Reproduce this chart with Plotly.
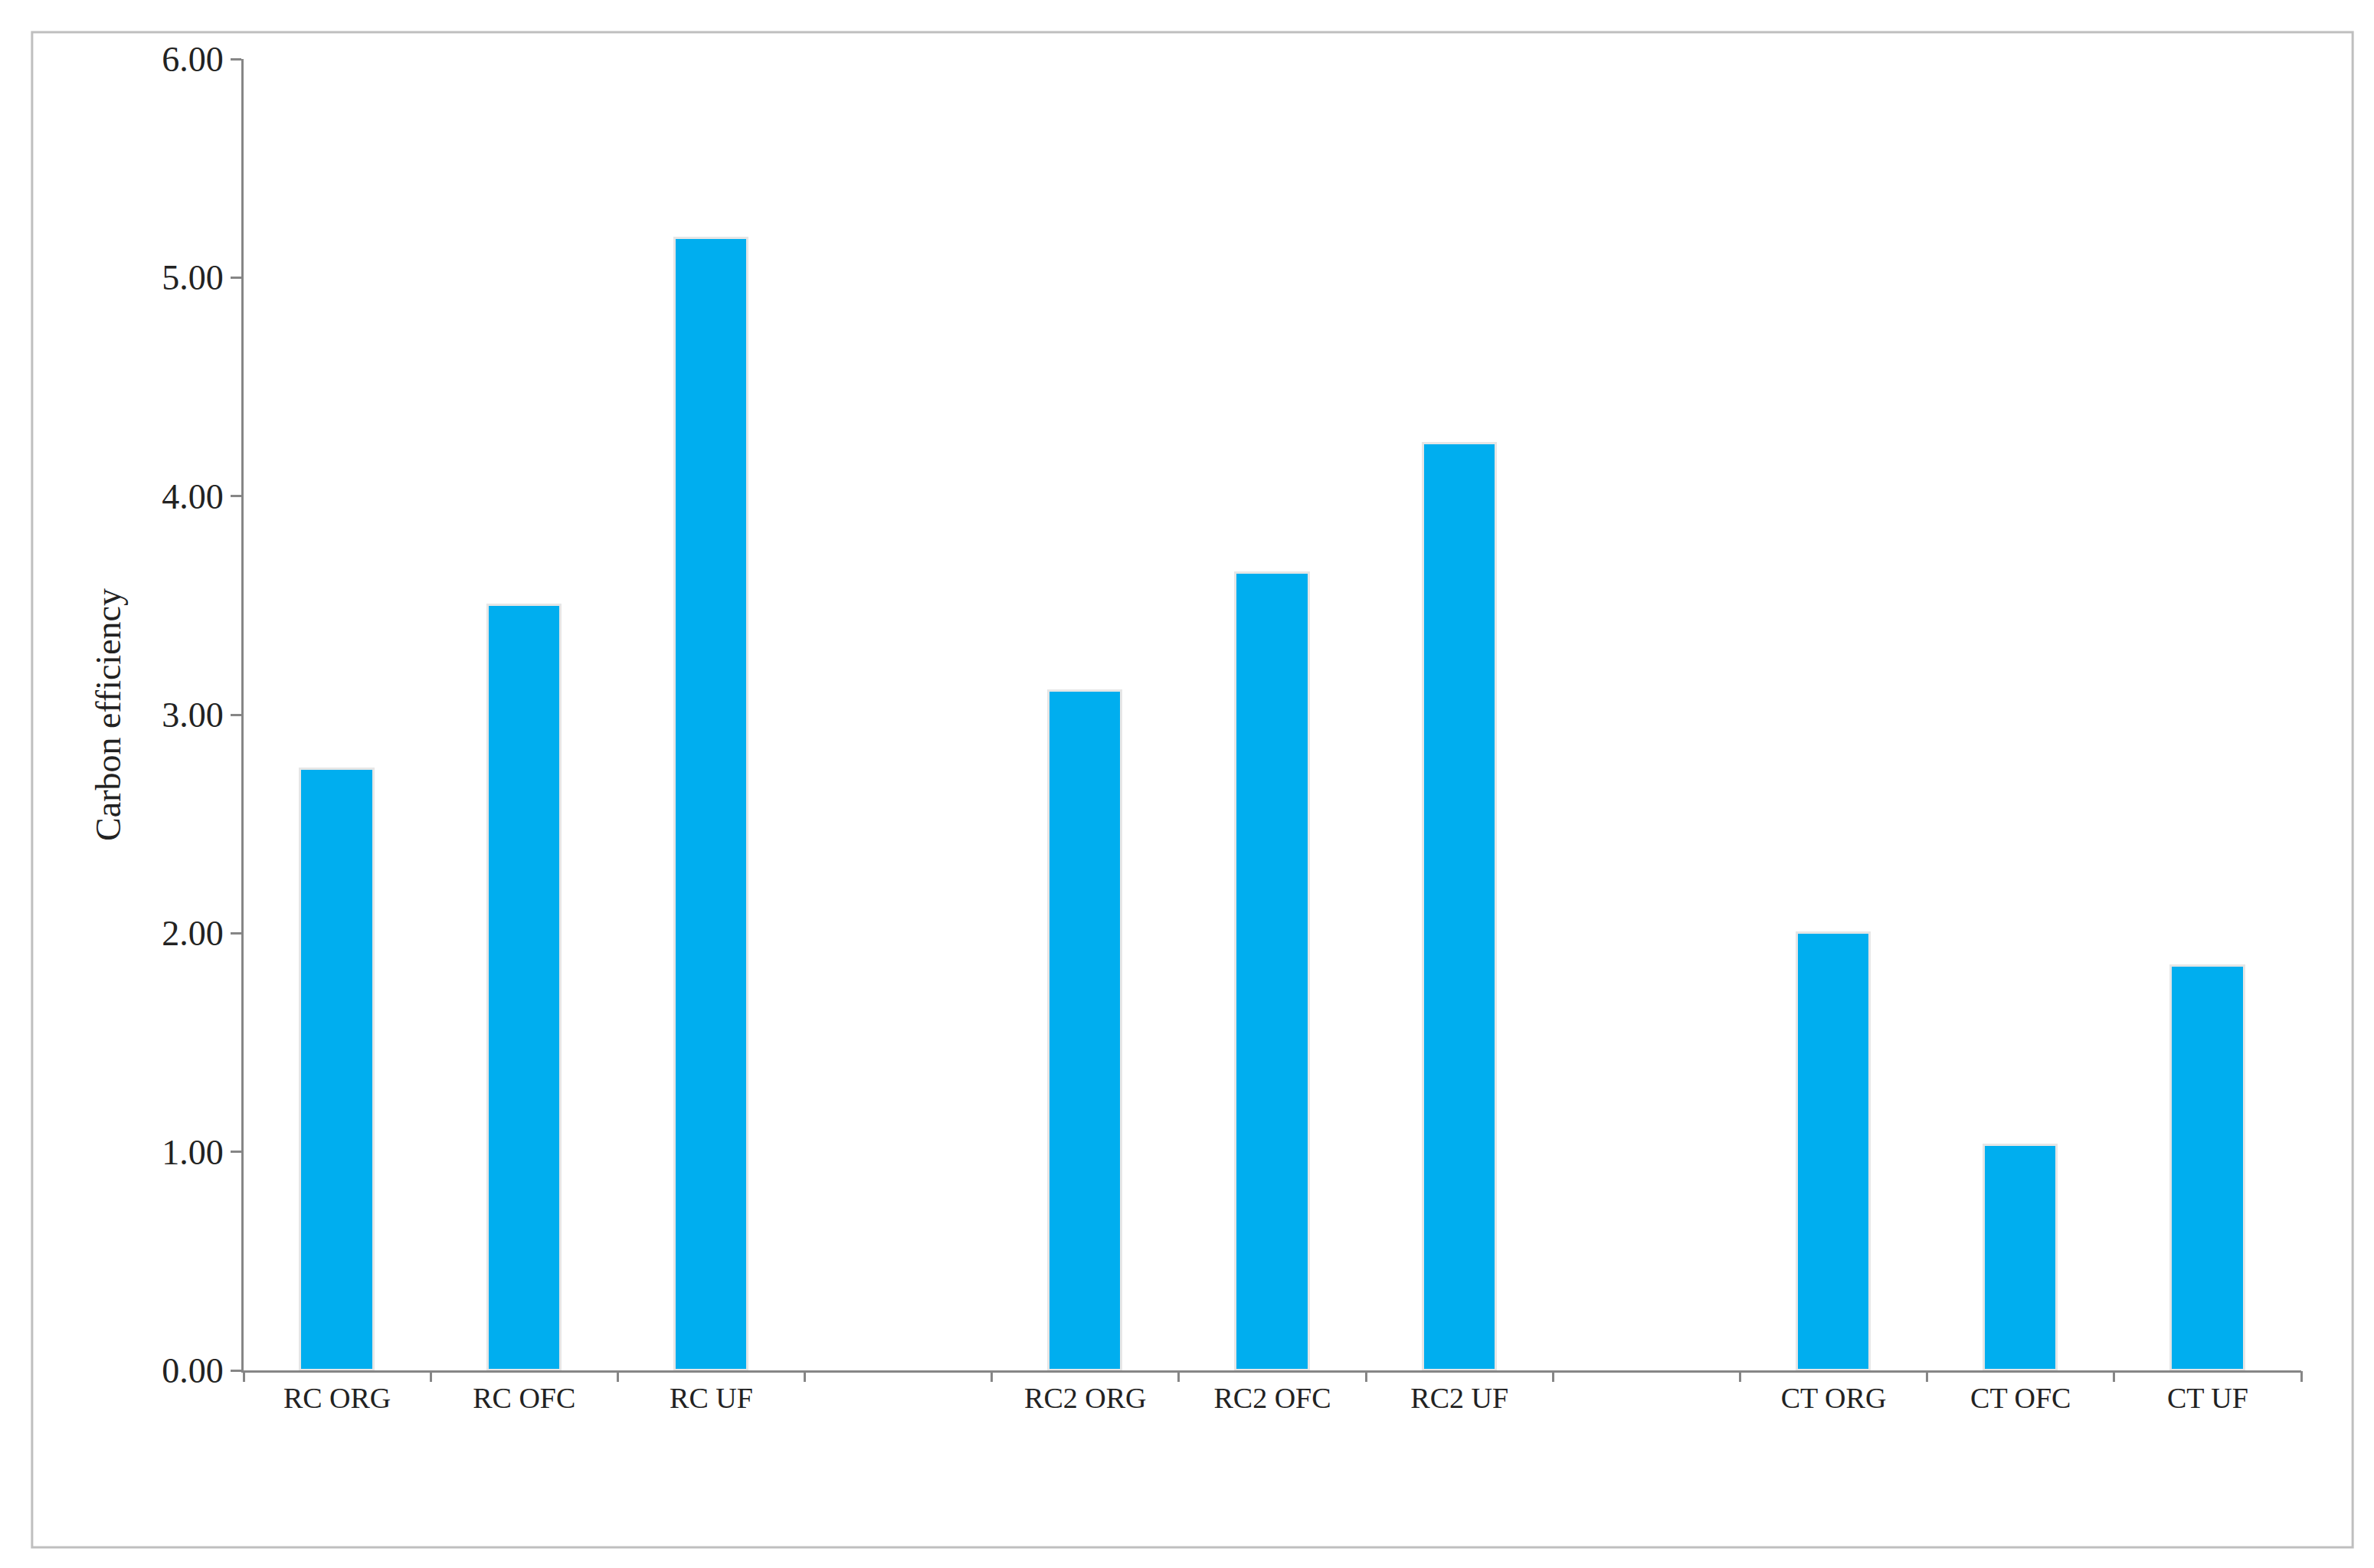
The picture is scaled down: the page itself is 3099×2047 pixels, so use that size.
import plotly.graph_objects as go

categories = ["RC ORG", "RC OFC", "RC UF", "", "RC2 ORG", "RC2 OFC", "RC2 UF", " ", "CT ORG", "CT OFC", "CT UF"]
values = [2.75, 3.50, 5.18, None, 3.11, 3.65, 4.24, None, 2.00, 1.03, 1.85]
y_ticks = [0, 1, 2, 3, 4, 5, 6]
y_labels = ["0.00", "1.00", "2.00", "3.00", "4.00", "5.00", "6.00"]

xpos = list(range(len(categories)))
fig = go.Figure()
fig.add_trace(go.Bar(x=xpos, y=values, width=0.39, marker=dict(color="#00AEEF", line=dict(color="#E6E6E6", width=3)),
                     showlegend=False))
# invisible trace on boundary-tick axis
fig.add_trace(go.Scatter(x=[-0.5, 10.5], y=[0, 0], xaxis="x2", mode="markers", marker=dict(opacity=0), showlegend=False, hoverinfo="skip"))

font = "Liberation Serif"
fig.update_layout(
    width=3099, height=2047, plot_bgcolor="white", paper_bgcolor="white",
    margin=dict(l=310, r=103, t=69, b=266), bargap=0,
    xaxis=dict(range=[-0.5, 10.5], tickvals=xpos, ticktext=categories, ticks="", showgrid=False,
               showline=True, linecolor="#868686", linewidth=3,
               tickfont=dict(family=font, size=38, color="#222")),
    xaxis2=dict(range=[-0.5, 10.5], overlaying="x", anchor="y", side="bottom",
                tickvals=[i - 0.5 for i in range(12)], showticklabels=False, ticks="outside",
                ticklen=14, tickwidth=3, tickcolor="#868686", showgrid=False, zeroline=False),
    yaxis=dict(range=[0, 6], tickvals=y_ticks, ticktext=y_labels, ticks="outside", ticklen=14, tickwidth=3,
               tickcolor="#868686", showgrid=False, showline=True, linecolor="#868686", linewidth=3,
               zeroline=False, tickfont=dict(family=font, size=46, color="#222"),
               title=dict(text="Carbon efficiency", font=dict(family=font, size=46, color="#222"), standoff=40)),
    shapes=[dict(type="rect", xref="paper", yref="paper", x0=-0.1028, x1=1.025, y0=-0.135, y1=1.0205,
                 line=dict(color="#BFBFBF", width=3))],
)
fig.write_html("out.html")
